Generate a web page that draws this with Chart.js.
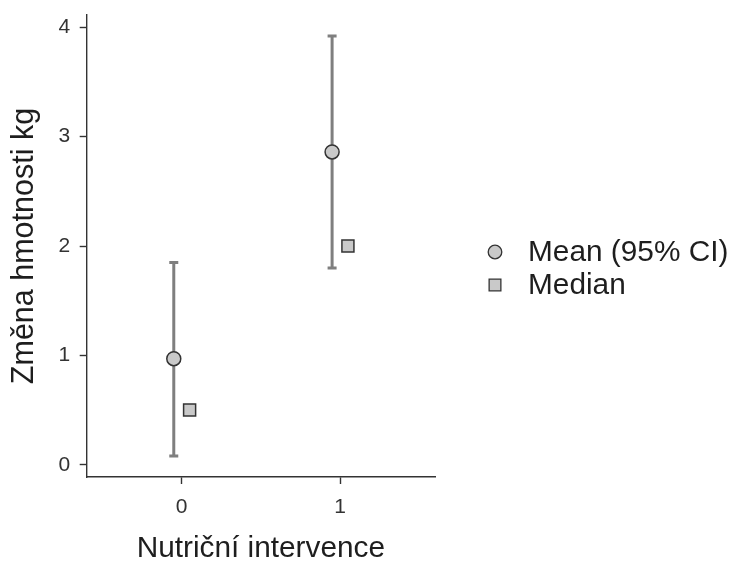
<!DOCTYPE html>
<html>
<head>
<meta charset="utf-8">
<script src="https://cdn.jsdelivr.net/npm/chart.js@4/dist/chart.umd.min.js"></script>
<style>
  html, body { margin: 0; padding: 0; background: #ffffff; overflow: hidden; }
</style>
</head>
<body>
<canvas id="c" width="731" height="562"></canvas>
<script>
// Weight change by nutrition intervention group
const categories   = ['0', '1'];
const meanValues   = [0.97, 2.86];
const ciLower      = [0.08, 1.80];
const ciUpper      = [1.85, 3.92];
const medianValues = [0.50, 2.00];
const yTickValues  = [0, 1, 2, 3, 4];

const seriesLabels = ['Mean (95% CI)', 'Median'];

const FONT = '"Liberation Sans", Arial, Helvetica, sans-serif';
const DODGE = 0.05;
const POINT_FILL = '#c9c9c9';
const POINT_EDGE = '#333333';
const BAR_COLOR = '#7f7f7f';
const AXIS_COLOR = '#333333';

const meanData = categories.map((c, i) => ({ x: i - DODGE, y: meanValues[i] }));
const medianData = categories.map((c, i) => ({ x: i + DODGE, y: medianValues[i] }));

// Vertical interval lines with end caps for the mean series
const errorBars = {
  id: 'errorBars',
  beforeDatasetsDraw(chart) {
    const { ctx, scales: { x, y } } = chart;
    ctx.save();
    ctx.strokeStyle = BAR_COLOR;
    ctx.lineWidth = 3;
    ctx.lineCap = 'butt';
    categories.forEach((c, i) => {
      const px = x.getPixelForValue(i - DODGE);
      const top = y.getPixelForValue(ciUpper[i]);
      const bot = y.getPixelForValue(ciLower[i]);
      ctx.beginPath();
      ctx.moveTo(px, top);
      ctx.lineTo(px, bot);
      ctx.stroke();
      ctx.beginPath();
      ctx.moveTo(px - 4.5, top); ctx.lineTo(px + 4.5, top);
      ctx.moveTo(px - 4.5, bot); ctx.lineTo(px + 4.5, bot);
      ctx.stroke();
    });
    ctx.restore();
  }
};

// Legend to the right of the panel
const sideLegend = {
  id: 'sideLegend',
  afterDraw(chart) {
    const { ctx } = chart;
    const rows = [
      { label: seriesLabels[0], style: 'circle', r: 6.8, y: 252 },
      { label: seriesLabels[1], style: 'rect', r: 8.3, y: 285 }
    ];
    ctx.save();
    rows.forEach(row => {
      ctx.fillStyle = POINT_FILL;
      ctx.strokeStyle = POINT_EDGE;
      ctx.lineWidth = 1.3;
      Chart.helpers.drawPoint(ctx, { pointStyle: row.style, radius: row.r, rotation: 0, borderWidth: 1.3 }, 495, row.y);
      ctx.fillStyle = '#1e1e1e';
      ctx.font = '29.8px ' + FONT;
      ctx.textBaseline = 'middle';
      ctx.textAlign = 'left';
      ctx.fillText(row.label, 528, row.y + 1);
    });
    ctx.restore();
  }
};

// Keep the panel edges exactly where the layout padding puts them
function noEdgePadding(scale) {
  scale.paddingTop = 0;
  scale.paddingBottom = 0;
  scale.paddingLeft = 0;
  scale.paddingRight = 0;
}

new Chart(document.getElementById('c'), {
  type: 'scatter',
  data: {
    datasets: [
      {
        label: seriesLabels[0],
        data: meanData,
        pointStyle: 'circle',
        pointRadius: 7,
        pointHoverRadius: 7,
        backgroundColor: POINT_FILL,
        borderColor: POINT_EDGE,
        borderWidth: 1.5
      },
      {
        label: seriesLabels[1],
        data: medianData,
        pointStyle: 'rect',
        pointRadius: 8.5,
        pointHoverRadius: 8.5,
        backgroundColor: POINT_FILL,
        borderColor: POINT_EDGE,
        borderWidth: 1.5
      }
    ]
  },
  options: {
    responsive: false,
    animation: false,
    devicePixelRatio: 1,
    layout: { padding: { top: 15, right: 296, bottom: 0, left: 0 } },
    plugins: {
      legend: { display: false },
      tooltip: { enabled: false }
    },
    scales: {
      x: {
        type: 'linear',
        min: -0.6,
        max: 1.6,
        afterBuildTicks(scale) {
          scale.ticks = categories.map((c, i) => ({ value: i }));
        },
        afterFit(scale) { scale.height = 85; noEdgePadding(scale); },
        ticks: {
          callback: (v) => categories[v],
          font: { family: FONT, size: 21 },
          color: '#333333',
          padding: 11,
          maxRotation: 0
        },
        grid: {
          drawOnChartArea: false,
          drawTicks: true,
          tickLength: 7,
          tickColor: AXIS_COLOR,
          tickWidth: 1.4
        },
        border: { display: true, color: AXIS_COLOR, width: 1.4 },
        title: {
          display: true,
          text: 'Nutriční intervence',
          font: { family: FONT, size: 29.8 },
          color: '#1e1e1e',
          padding: { top: 0, bottom: -5 }
        }
      },
      y: {
        min: -0.112,
        max: 4.112,
        afterBuildTicks(scale) {
          scale.ticks = yTickValues.map(v => ({ value: v }));
        },
        afterFit(scale) { scale.width = 86.7; noEdgePadding(scale); },
        ticks: {
          callback: (v) => String(v),
          font: { family: FONT, size: 21 },
          color: '#333333',
          padding: 9.5
        },
        grid: {
          drawOnChartArea: false,
          drawTicks: true,
          tickLength: 7,
          tickColor: AXIS_COLOR,
          tickWidth: 1.4
        },
        border: { display: true, color: AXIS_COLOR, width: 1.4 },
        title: {
          display: true,
          text: 'Změna hmotnosti kg',
          font: { family: FONT, size: 30.5 },
          color: '#1e1e1e',
          padding: { top: 6.5, bottom: 0 }
        }
      }
    }
  },
  plugins: [errorBars, sideLegend]
});
</script>
</body>
</html>
